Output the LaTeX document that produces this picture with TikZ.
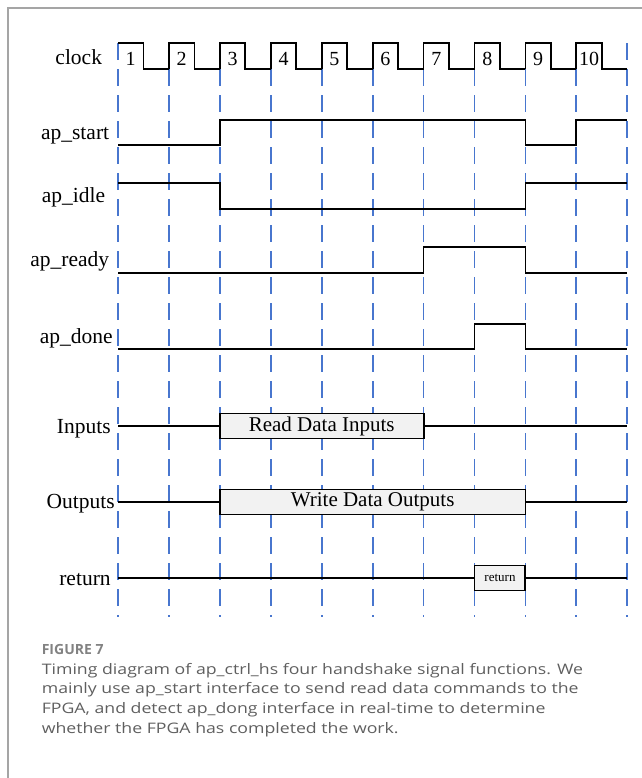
\documentclass[tikz,border=0pt]{standalone}
\usepackage{fontspec}
\setmainfont{Liberation Serif}
\newfontfamily\figfont{Open Sans}
\newfontfamily\capfont[FakeStretch=1.22]{Open Sans}
\usetikzlibrary{positioning, calc}

\definecolor{cycleblue}{RGB}{72,118,206}
\definecolor{boxgray}{RGB}{242,242,242}
\definecolor{framegray}{RGB}{165,165,165}
\definecolor{capgray}{RGB}{95,95,95}
\definecolor{figgray}{RGB}{130,130,130}

\begin{document}
\begin{tikzpicture}[
  x=50.93pt, y=1pt,
  wave/.style     = {line width=1.8pt, line join=miter},
  cyclegrid/.style= {cycleblue, line width=1.8pt, dash pattern=on 17pt off 9pt},
  databox/.style  = {draw, line width=1.9pt, fill=boxgray, minimum height=25pt, inner sep=0pt,
                     font=\fontsize{21}{24}\selectfont},
  siglabel/.style = {anchor=base east, inner sep=0pt, font=\fontsize{21.5}{24}\selectfont},
  ticknum/.style  = {anchor=base, inner sep=0pt, font=\fontsize{20}{22}\selectfont},
  captext/.style  = {anchor=north west, inner sep=0pt, align=left, text=capgray,
                     font=\capfont\fontsize{14.5}{19.7}\selectfont},
]
  \useasboundingbox (-2.317,0) rectangle (10.269,778);

  % frame round the figure, only its top and left side are on the page
  \draw[framegray, line width=1.5pt] (-2.16,-5) |- (10.5,770);

  % one dashed line per clock edge
  \foreach \k in {0,...,10}
    \draw[cyclegrid] (\k,734.7) -- (\k,161);

  % clock
  \draw[wave] (0,734.7) -- (0.5,734.7) -- (0.5,708.7) -- (1,708.7);
  \foreach \k in {1,...,9}
    \draw[wave] (\k,708.7) -- (\k,734.7) -- (\k+0.5,734.7) -- (\k+0.5,708.7) -- (\k+1,708.7);
  \foreach \k in {0,...,9} {
    \pgfmathtruncatemacro{\cyc}{\k+1}
    \node[ticknum] (tick\cyc) at (\k+0.25,712) {\cyc};
  }

  % signal names
  \foreach \nm/\txt/\xx/\yy in {clk/clock/-0.31/713, start/ap\_start/-0.17/638.7,
      idle/ap\_idle/-0.25/575, ready/ap\_ready/-0.17/511.3, done/ap\_done/-0.1/434.7,
      inp/Inputs/-0.14/344.7, outp/Outputs/-0.06/269, ret/return/-0.14/192}
    \node[siglabel] (lab-\nm) at (\xx,\yy) {\txt};

  % control handshake
  \draw[wave] (0,633) -- (2,633) -- (2,658) -- (8,658) -- (8,633) -- (9,633) -- (9,658) -- (10,658);
  \draw[wave] (0,594.7) -- (2,594.7) -- (2,568.7) -- (8,568.7) -- (8,594.7) -- (10,594.7);
  \draw[wave] (0,504.7) -- (6,504.7) -- (6,530.7) -- (8,530.7) -- (8,504.7) -- (10,504.7);
  \draw[wave] (0,428.7) -- (7,428.7) -- (7,454) -- (8,454) -- (8,428.7) -- (10,428.7);

  % data buses
  \draw[wave] (0,352) -- (10,352);
  \draw[wave] (0,276) -- (10,276);
  \draw[wave] (0,200) -- (10,200);
  \node[databox, minimum width=203.7pt] (rdbox) at (4,352) {Read Data Inputs};
  \node[databox, minimum width=305.6pt] (wrbox) at (5,276) {Write Data Outputs};
  \node[databox, minimum width=50.9pt, font=\fontsize{13}{14}\selectfont] (retbox) at (7.5,200) {return};

  % caption
  \node[anchor=base west, inner sep=0pt, text=figgray,
        font=\figfont\bfseries\fontsize{14}{16}\selectfont] (figno) at (-1.5,123) {FIGURE 7};
  \node[captext] (cap) at (-1.5,115)
    {Timing diagram of ap\_ctrl\_hs four handshake signal functions. We\\
     mainly use ap\_start interface to send read data commands to the\\
     FPGA, and detect ap\_dong interface in real-time to determine\\
     whether the FPGA has completed the work.};
\end{tikzpicture}
\end{document}
